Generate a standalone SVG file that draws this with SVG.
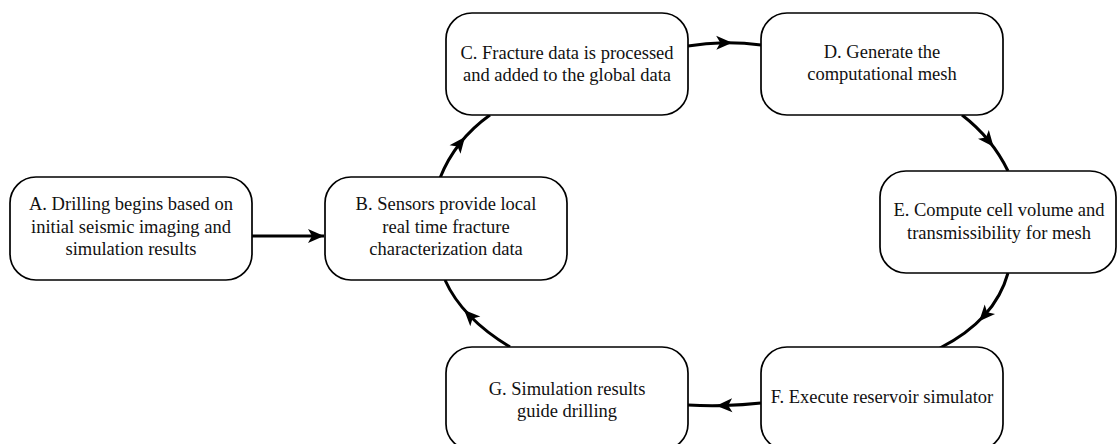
<svg xmlns="http://www.w3.org/2000/svg" width="1117" height="444" viewBox="0 0 1117 444">
  <defs>
    <style>
      .box { fill: #ffffff; stroke: #000000; stroke-width: 1.7; }
      .lbl { font-family: "Liberation Serif", "Times New Roman", serif; font-size: 18.5px; fill: #111111; text-anchor: middle; }
      .edge { fill: none; stroke: #000000; stroke-width: 3; }
    </style>
    <marker id="arrowMid" markerUnits="userSpaceOnUse" markerWidth="20" markerHeight="20" refX="0" refY="0" orient="auto" overflow="visible">
      <path d="M8,0 L-8,-7 L-4,0 L-8,7 Z" fill="#000000"/>
    </marker>
    <marker id="arrowEnd" markerUnits="userSpaceOnUse" markerWidth="20" markerHeight="20" refX="0" refY="0" orient="auto" overflow="visible">
      <path d="M0,0 L-16,-7 L-12,0 L-16,7 Z" fill="#000000"/>
    </marker>
  </defs>
  <rect width="1117" height="444" fill="#ffffff"/>

  <g id="connectors">
    <path class="edge" d="M252,236 L324,236" marker-end="url(#arrowEnd)"/>
    <path class="edge" d="M440,178 Q447.5,159 460,143.25 Q472.5,127.5 490,115" marker-mid="url(#arrowMid)"/>
    <path class="edge" d="M688,46 Q706,43 724.25,42.75 Q742.5,42.5 761,45" marker-mid="url(#arrowMid)"/>
    <path class="edge" d="M962,115 Q977,126.5 988.5,140.5 Q1000,154.5 1008,171" marker-mid="url(#arrowMid)"/>
    <path class="edge" d="M1008,273 Q1001.5,296.5 984.5,315.25 Q967.5,334 940,348" marker-mid="url(#arrowMid)"/>
    <path class="edge" d="M761,403 Q742.5,405 724.25,405.5 Q706,406 688,405" marker-mid="url(#arrowMid)"/>
    <path class="edge" d="M510,347 Q486,332.5 469.75,315.75 Q453.5,299 445,280" marker-mid="url(#arrowMid)"/>
  </g>

  <g id="nodeA">
    <rect class="box" x="10" y="177" width="242" height="103" rx="26" ry="26"/>
    <text class="lbl" x="131" y="210">A. Drilling begins based on</text>
    <text class="lbl" x="131" y="233">initial seismic imaging and</text>
    <text class="lbl" x="131" y="255">simulation results</text>
  </g>
  <g id="nodeB">
    <rect class="box" x="325" y="177" width="242" height="103" rx="26" ry="26"/>
    <text class="lbl" x="446" y="210">B. Sensors provide local</text>
    <text class="lbl" x="446" y="233">real time fracture</text>
    <text class="lbl" x="446" y="255">characterization data</text>
  </g>
  <g id="nodeC">
    <rect class="box" x="446" y="13" width="242" height="102" rx="26" ry="26"/>
    <text class="lbl" x="567" y="59">C. Fracture data is processed</text>
    <text class="lbl" x="567" y="81">and added to the global data</text>
  </g>
  <g id="nodeD">
    <rect class="box" x="761" y="13" width="242" height="102" rx="26" ry="26"/>
    <text class="lbl" x="882" y="58">D. Generate the</text>
    <text class="lbl" x="882" y="80">computational mesh</text>
  </g>
  <g id="nodeE">
    <rect class="box" x="880" y="171" width="236" height="102" rx="26" ry="26"/>
    <text class="lbl" x="999" y="216">E. Compute cell volume and</text>
    <text class="lbl" x="999" y="239">transmissibility for mesh</text>
  </g>
  <g id="nodeF">
    <rect class="box" x="761" y="347" width="242" height="103" rx="26" ry="26"/>
    <text class="lbl" x="882" y="403">F. Execute reservoir simulator</text>
  </g>
  <g id="nodeG">
    <rect class="box" x="446" y="347" width="242" height="103" rx="26" ry="26"/>
    <text class="lbl" x="567" y="395">G. Simulation results</text>
    <text class="lbl" x="567" y="417">guide drilling</text>
  </g>
</svg>
